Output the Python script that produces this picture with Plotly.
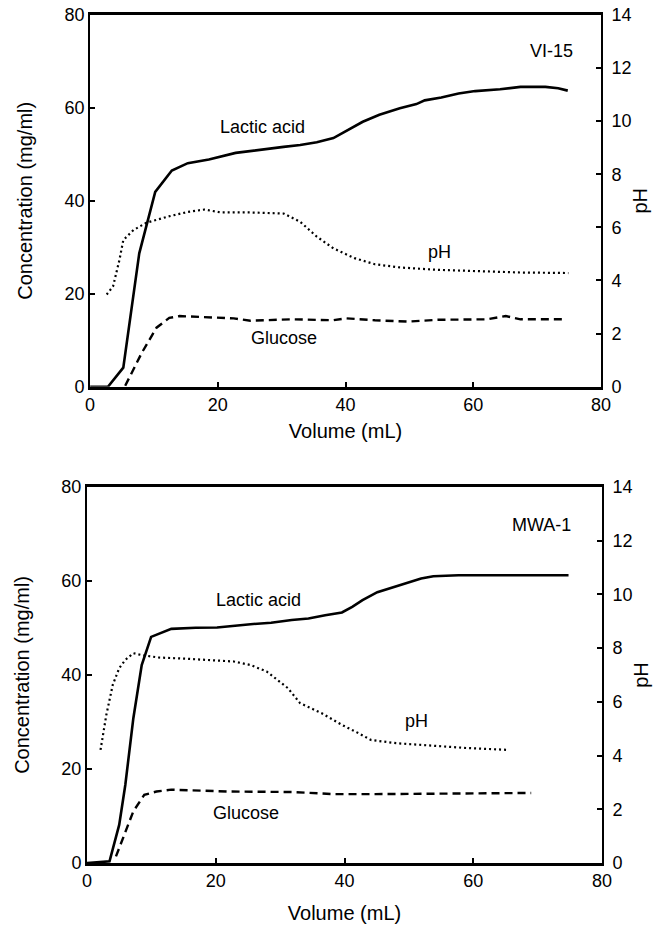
import plotly.graph_objects as go

# ---------------- Data: top panel (VI-15) ----------------
vi_lac_x = [0, 2.8, 5.2, 7.7, 10.2, 12.8, 15.3, 18.6, 22.8, 26.4, 30.3, 32.9, 35.5, 38.1,
            40.7, 42.7, 45.3, 48.5, 51.1, 52.4, 55.0, 57.7, 60.3, 64.2, 67.4, 71.3, 73.3, 74.8]
vi_lac_y = [0, 0, 4.1, 28.7, 41.9, 46.5, 48.1, 48.9, 50.3, 51.0, 51.6, 52.0, 52.6, 53.5,
            55.4, 57.0, 58.5, 59.9, 60.8, 61.6, 62.2, 63.1, 63.6, 64.0, 64.5, 64.5, 64.2, 63.7]

vi_ph_x = [2.6, 3.6, 4.6, 5.2, 6.8, 8.8, 12.1, 15.3, 17.9, 20.5, 25.1, 30.3, 32.9, 35.5,
           38.1, 41.4, 44.6, 48.5, 54.4, 60.9, 67.4, 74.9]
vi_ph_y = [3.47, 3.78, 4.78, 5.52, 5.90, 6.17, 6.40, 6.58, 6.67, 6.56, 6.56, 6.52, 6.21, 5.65,
           5.21, 4.84, 4.61, 4.49, 4.40, 4.34, 4.30, 4.28]

vi_glu_x = [5.5, 8.1, 10.4, 12.4, 14.0, 18.6, 22.5, 25.1, 31.6, 38.1, 40.1, 44.6, 49.8, 54.4,
            62.2, 65.1, 67.4, 74.6]
vi_glu_y = [0.2, 7.3, 12.7, 14.8, 15.2, 15.0, 14.7, 14.2, 14.5, 14.3, 14.7, 14.3, 14.0, 14.4,
            14.5, 15.2, 14.5, 14.5]

# ---------------- Data: bottom panel (MWA-1) ----------------
mw_lac_x = [0, 3.5, 5.0, 5.95, 7.2, 8.5, 9.96, 13.1, 16.9, 20.2, 25.4, 28.6, 31.8, 34.4, 37.0,
            39.6, 41.2, 42.8, 45.1, 47.3, 49.9, 51.9, 53.8, 57.7, 67.4, 74.8]
mw_lac_y = [0, 0.35, 8.1, 16.6, 30.8, 42.1, 48.1, 49.8, 50.05, 50.1, 50.8, 51.1, 51.7, 52.0, 52.7,
            53.3, 54.5, 55.9, 57.6, 58.5, 59.7, 60.5, 61.0, 61.2, 61.2, 61.2]

mw_ph_x = [2.1, 3.0, 4.0, 5.0, 5.95, 7.2, 8.5, 11.1, 15.65, 20.8, 22.8, 25.4, 27.9, 31.2, 33.1,
           36.4, 39.6, 42.2, 44.1, 48.0, 54.5, 59.0, 65.5]
mw_ph_y = [4.21, 5.51, 6.63, 7.25, 7.56, 7.81, 7.74, 7.65, 7.60, 7.53, 7.50, 7.37, 7.13, 6.51, 5.95,
           5.58, 5.14, 4.83, 4.58, 4.46, 4.34, 4.28, 4.21]

mw_glu_x = [4.5, 5.95, 7.2, 8.9, 10.8, 13.1, 22.1, 31.8, 38.3, 44.8, 51.2, 57.7, 69.0]
mw_glu_y = [1.4, 6.7, 11.0, 14.5, 15.2, 15.6, 15.2, 15.1, 14.65, 14.65, 14.7, 14.9, 14.9]

x_ticks = [0, 20, 40, 60, 80]
conc_ticks = [0, 20, 40, 60, 80]
ph_ticks = [0, 2, 4, 6, 8, 10, 12, 14]

FONT = "Liberation Sans, Arial, sans-serif"
BLACK = "#000000"

fig = go.Figure()

def add_panel(lx, ly, px, py, gx, gy, xa, ya, ya2):
    fig.add_trace(go.Scatter(x=lx, y=ly, mode="lines", xaxis=xa, yaxis=ya,
                             line=dict(color=BLACK, width=2.6), showlegend=False))
    fig.add_trace(go.Scatter(x=gx, y=gy, mode="lines", xaxis=xa, yaxis=ya,
                             line=dict(color=BLACK, width=2.4, dash="8px,5px"), showlegend=False))
    fig.add_trace(go.Scatter(x=px, y=py, mode="lines", xaxis=xa, yaxis=ya2,
                             line=dict(color=BLACK, width=2.2, dash="2px,3px"), showlegend=False))

add_panel(vi_lac_x, vi_lac_y, vi_ph_x, vi_ph_y, vi_glu_x, vi_glu_y, "x", "y", "y2")
add_panel(mw_lac_x, mw_lac_y, mw_ph_x, mw_ph_y, mw_glu_x, mw_glu_y, "x2", "y3", "y4")

tickfont = dict(family=FONT, size=18, color=BLACK)
titlefont = dict(family=FONT, size=20, color=BLACK)

def xaxis_cfg(domain, anchor, standoff):
    return dict(domain=domain, anchor=anchor, range=[0, 80], tickvals=x_ticks,
                showline=True, linecolor=BLACK, linewidth=2.6, mirror=True,
                ticks="inside", ticklen=5, tickwidth=1.5, tickcolor=BLACK,
                showgrid=False, zeroline=False, tickfont=tickfont, automargin=False,
                title=dict(text="Volume (mL)", font=titlefont, standoff=standoff))

def yaxis_cfg(domain, anchor):
    return dict(domain=domain, anchor=anchor, range=[0, 80], tickvals=conc_ticks,
                showline=True, linecolor=BLACK, linewidth=2,
                ticks="inside", ticklen=5, tickwidth=1.5, tickcolor=BLACK,
                showgrid=False, zeroline=False, tickfont=tickfont, automargin=False,
                title=dict(text="Concentration (mg/ml)", font=titlefont, standoff=26))

def ph_cfg(overlay, anchor):
    return dict(overlaying=overlay, anchor=anchor, side="right", range=[0, 14], tickvals=ph_ticks,
                showline=True, linecolor=BLACK, linewidth=2,
                ticks="inside", ticklen=5, tickwidth=1.5, tickcolor=BLACK,
                ticklabelstandoff=5, automargin=False,
                showgrid=False, zeroline=False, tickfont=tickfont,
                title=dict(text="pH", font=titlefont, standoff=2))

fig.update_layout(
    width=654, height=930,
    margin=dict(l=87, r=52, t=14, b=67, autoexpand=False),
    paper_bgcolor="white", plot_bgcolor="white",
    font=dict(family=FONT, color=BLACK),
    xaxis=xaxis_cfg([0.006, 0.998], "y", 10),
    yaxis=yaxis_cfg([0.561, 0.999], "x"),
    yaxis2=ph_cfg("y", "x"),
    xaxis2=xaxis_cfg([0.0, 1.0], "y3", 16),
    yaxis3=yaxis_cfg([0.0, 0.443], "x2"),
    yaxis4=ph_cfg("y3", "x2"),
)

labfont = dict(family=FONT, size=18, color=BLACK)
annos = [
    ("x", "y", 27, 55.8, "Lactic acid"),
    ("x", "y", 54.7, 29, "pH"),
    ("x", "y", 30.3, 10.5, "Glucose"),
    ("x", "y", 72.3, 72.2, "VI-15"),
    ("x2", "y3", 26.6, 55.9, "Lactic acid"),
    ("x2", "y3", 51.2, 30.1, "pH"),
    ("x2", "y3", 24.7, 10.6, "Glucose"),
    ("x2", "y3", 70.6, 72, "MWA-1"),
]
for xr, yr, ax, ay, txt in annos:
    fig.add_annotation(xref=xr, yref=yr, x=ax, y=ay, text=txt, showarrow=False, font=labfont)

fig.write_html("out.html")
